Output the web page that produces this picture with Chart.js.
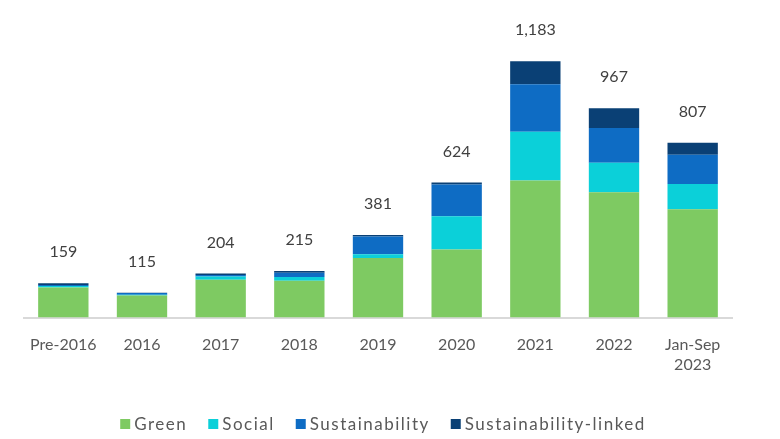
<!DOCTYPE html>
<html>
<head>
<meta charset="utf-8">
<script src="https://cdn.jsdelivr.net/npm/chart.js@4"></script>
<style>
  html, body { margin: 0; padding: 0; background: #fff; }
  #wrap { width: 780px; height: 439px; }
</style>
</head>
<body>
<div id="wrap"><canvas id="myChart" width="780" height="439"></canvas></div>
<script>
// data
const periods = ["Pre-2016", "2016", "2017", "2018", "2019", "2020", "2021", "2022", ["Jan-Sep", "2023"]];
const greenValues = [139, 102, 175, 170, 275, 314, 633, 579, 500];
const socialValues = [7, 3, 15, 18, 17, 154, 225, 136, 117];
const sustainabilityValues = [5, 8, 7, 19, 82, 146, 219, 160, 135];
const linkedValues = [8, 2, 7, 8, 7, 10, 106, 92, 55];
const seriesNames = ["Green", "Social", "Sustainability", "Sustainability-linked"];
const seriesColors = ["#7eca62", "#0bd0d9", "#0e6cc4", "#0a4075"];

const txt = "#595959";
const fontFamily = "Lato, 'Open Sans', sans-serif";

// write the total on top of each stack
const totalsPlugin = {
    id: "totals",
    afterDatasetsDraw: function (chart) {
        const ctx = chart.ctx;
        const yScale = chart.scales.y;
        const xScale = chart.scales.x;
        ctx.save();
        ctx.fillStyle = "#404040";
        ctx.font = "16px " + fontFamily;
        ctx.textAlign = "center";
        ctx.textBaseline = "middle";
        periods.forEach(function (p, i) {
            const total = greenValues[i] + socialValues[i] + sustainabilityValues[i] + linkedValues[i];
            const x = xScale.getPixelForValue(i);
            const y = yScale.getPixelForValue(total) - 31;
            ctx.fillText(total.toLocaleString("en-US"), x, y);
        });
        ctx.restore();
    }
};

// legend drawn by hand so the text can be letter-spaced like the original
const legendPlugin = {
    id: "spacedLegend",
    afterDraw: function (chart) {
        const ctx = chart.ctx;
        const box = 10, gapText = 4, gapItem = 21;
        ctx.save();
        ctx.font = "17px " + fontFamily;
        ctx.letterSpacing = "1.5px";
        ctx.textBaseline = "middle";
        ctx.textAlign = "left";
        const items = chart.data.datasets.map(function (ds) {
            return { label: ds.label, color: ds.backgroundColor, w: ctx.measureText(ds.label).width };
        });
        let total = 0;
        items.forEach(function (it, i) {
            total += box + gapText + it.w + (i < items.length - 1 ? gapItem : 0);
        });
        let x = 383 - total / 2;
        const y = 424;
        items.forEach(function (it) {
            ctx.fillStyle = it.color;
            ctx.fillRect(x, y - box / 2, box, box);
            ctx.fillStyle = txt;
            ctx.fillText(it.label, x + box + gapText, y + 1);
            x += box + gapText + it.w + gapItem;
        });
        ctx.restore();
    }
};

const allValues = [greenValues, socialValues, sustainabilityValues, linkedValues];

new Chart("myChart", {
    type: "bar",
    data: {
        labels: periods,
        datasets: seriesNames.map(function (name, k) {
            return {
                label: name,
                data: allValues[k],
                backgroundColor: seriesColors[k],
                barPercentage: 0.64,
                categoryPercentage: 1
            };
        })
    },
    options: {
        responsive: false,
        animation: false,
        layout: { padding: { left: 24, right: 48, top: 10, bottom: 55 } },
        plugins: {
            legend: { display: false },
            tooltip: { enabled: false }
        },
        scales: {
            x: {
                stacked: true,
                grid: { display: false },
                border: { color: "#d9d9d9", width: 2 },
                ticks: { color: txt, font: { size: 16, family: fontFamily }, padding: 10, maxRotation: 0 }
            },
            y: {
                stacked: true,
                display: false,
                min: 0,
                max: 1420
            }
        }
    },
    plugins: [totalsPlugin, legendPlugin]
});
</script>
</body>
</html>
